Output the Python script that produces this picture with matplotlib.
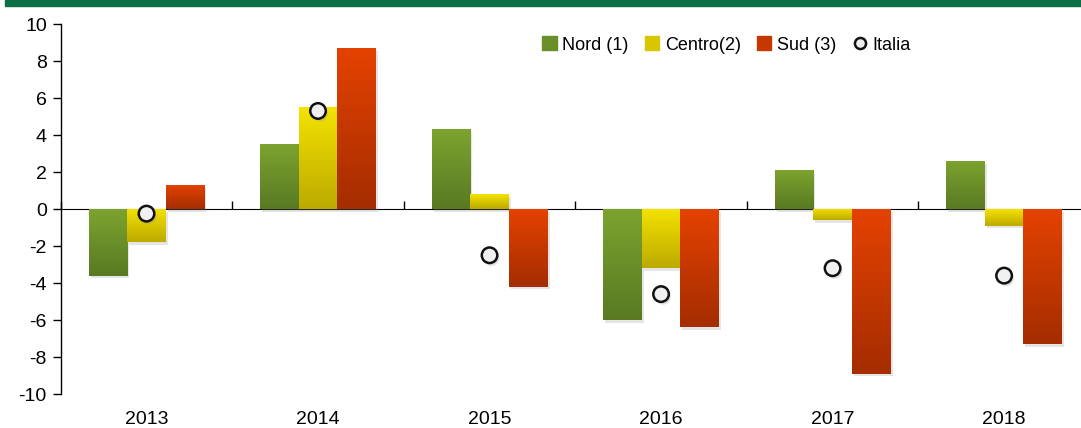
import numpy as np
import matplotlib.pyplot as plt
from matplotlib.patches import Rectangle
from matplotlib.lines import Line2D
from matplotlib.colors import LinearSegmentedColormap, to_rgb
import matplotlib.patheffects as pe

years = ['2013', '2014', '2015', '2016', '2017', '2018']
nord = [-3.6, 3.5, 4.3, -6.0, 2.1, 2.6]
centro = [-1.8, 5.5, 0.8, -3.2, -0.6, -0.9]
sud = [1.3, 8.7, -4.2, -6.4, -8.9, -7.3]
italia = [-0.25, 5.3, -2.5, -4.6, -3.2, -3.6]

series_names = ['Nord (1)', 'Centro(2)', 'Sud (3)']
# (top colour, bottom colour) for each series' vertical gradient
gradients = [('#7ca32f', '#597a23'), ('#f4e200', '#bcaa00'), ('#e44200', '#a52d00')]

plt.rcParams['font.family'] = ['Liberation Sans', 'DejaVu Sans']
plt.rcParams['axes.unicode_minus'] = False

fig = plt.figure(figsize=(10.81, 4.28), dpi=100)
ax = fig.add_axes([0.0562, 0.0794, 0.952, 0.8645])

# dark green band across the top
fig.patches.append(Rectangle((5 / 1081, 1 - 6 / 428), 1, 6 / 428,
                             transform=fig.transFigure, color='#0b6e45',
                             zorder=0))

x = np.arange(len(years))
width = 0.225
offsets = [-width, 0, width]
shadow = [pe.SimplePatchShadow(offset=(1.5, -2), shadow_rgbFace='#999999',
                               alpha=0.25), pe.Normal()]

for vals, off, (c_top, c_bot) in zip([nord, centro, sud], offsets, gradients):
    cmap = LinearSegmentedColormap.from_list('g', [c_bot, c_top])
    bars = ax.bar(x + off, vals, width, color=c_top, zorder=2,
                  path_effects=shadow)
    for b, v in zip(bars, vals):
        x0 = b.get_x()
        lo, hi = min(0, v), max(0, v)
        grad = np.linspace(0, 1, 64).reshape(-1, 1)
        im = ax.imshow(grad, cmap=cmap, origin='lower', aspect='auto',
                       extent=[x0, x0 + width, lo, hi], zorder=3)
        im.set_clip_path(b)

ax.scatter(x, italia, s=125, facecolor='#f0f0f0', edgecolor='#111111',
           linewidth=1.8, zorder=5,
           path_effects=[pe.SimplePatchShadow(offset=(1.5, -2),
                                              shadow_rgbFace='#999999',
                                              alpha=0.3), pe.Normal()])

ax.set_xlim(-0.5, len(years) - 0.5)
ax.set_ylim(-10, 10)
ax.set_yticks(np.arange(-10, 11, 2))
ax.tick_params(axis='y', direction='out', length=6, width=1,
               labelsize=14, pad=4)

ax.set_xticks(x)
ax.set_xticklabels(years)
ax.tick_params(axis='x', length=0, labelsize=14, pad=12)

for s in ['top', 'right', 'bottom']:
    ax.spines[s].set_visible(False)
ax.spines['left'].set_linewidth(1)

# zero line with separators between years
sec = ax.secondary_xaxis(0.5)
sec.set_xticks(np.arange(len(years) + 1) - 0.5)
sec.set_xticklabels([])
sec.tick_params(axis='x', direction='out', length=6, width=1)
sec.spines['bottom'].set_linewidth(1.2)

handles = [Rectangle((0, 0), 1, 1,
                     color=(np.array(to_rgb(a)) + np.array(to_rgb(b))) / 2)
           for a, b in gradients]
handles.append(Line2D([], [], marker='o', linestyle='none', markersize=8,
                      markerfacecolor='#f0f0f0', markeredgecolor='#111111',
                      markeredgewidth=1.8))
fig.legend(handles, series_names + ['Italia'], loc='center',
           bbox_to_anchor=(0.672, 0.895), ncol=4, frameon=False,
           fontsize=13, handlelength=0.8, handleheight=0.8,
           handletextpad=0.3, columnspacing=0.9)

fig.savefig('out.png', dpi=100)
